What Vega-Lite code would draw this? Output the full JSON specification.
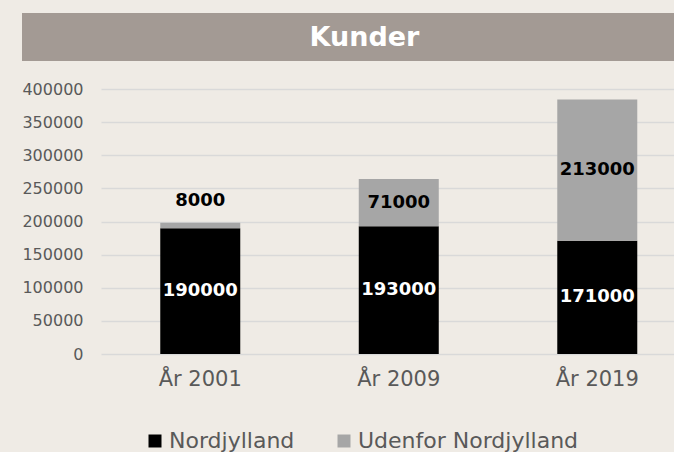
{
  "$schema": "https://vega.github.io/schema/vega-lite/v6.json",
  "background": "#EFEBE5",
  "padding": {"left": 21, "top": 13, "right": 0, "bottom": 0},
  "spacing": 20,
  "config": {"view": {"stroke": null}, "font": "DejaVu Sans"},
  "vconcat": [
    {
      "width": 653,
      "height": 48,
      "view": {"fill": "#A39A94", "stroke": null},
      "data": {"values": [{"title": "Kunder"}]},
      "mark": {"type": "text", "font": "DejaVu Sans", "fontWeight": "bold", "fontSize": 27, "color": "#FFFFFF", "baseline": "middle", "align": "center", "dx": 16, "dy": 1},
      "encoding": {"text": {"field": "title", "type": "nominal"}}
    },
    {
      "width": 653,
      "height": 265,
      "data": {
        "values": [
          {"year": "År 2001", "cat": "Nordjylland", "value": 190000},
          {"year": "År 2001", "cat": "Udenfor Nordjylland", "value": 8000},
          {"year": "År 2009", "cat": "Nordjylland", "value": 193000},
          {"year": "År 2009", "cat": "Udenfor Nordjylland", "value": 71000},
          {"year": "År 2019", "cat": "Nordjylland", "value": 171000},
          {"year": "År 2019", "cat": "Udenfor Nordjylland", "value": 213000}
        ]
      },
      "transform": [
        {"stack": "value", "groupby": ["year"], "sort": [{"field": "cat", "order": "ascending"}], "as": ["v0", "v1"]},
        {"calculate": "(datum.v0 + datum.v1) / 2", "as": "mid"}
      ],
      "encoding": {
        "x": {
          "field": "year",
          "type": "nominal",
          "scale": {"range": [79, 653], "paddingInner": 0.597, "paddingOuter": 0.2443, "align": 0.611},
          "axis": {"title": null, "labelAngle": 0, "ticks": false, "domain": false, "labelFont": "DejaVu Sans", "labelFontSize": 21, "labelColor": "#595959", "labelPadding": 14}
        }
      },
      "layer": [
        {
          "mark": {"type": "bar"},
          "encoding": {
            "y": {
              "field": "v0",
              "type": "quantitative",
              "scale": {"domain": [0, 400000]},
              "axis": {"title": null, "values": [0, 50000, 100000, 150000, 200000, 250000, 300000, 350000, 400000], "format": "d", "ticks": false, "domain": false, "labelPadding": -61, "labelAlign": "right", "labelFont": "DejaVu Sans", "labelFontSize": 16, "labelColor": "#595959", "gridColor": "#D9D9D9", "gridWidth": 1.5, "labelOverlap": false}
            },
            "y2": {"field": "v1"},
            "color": {
              "field": "cat",
              "type": "nominal",
              "scale": {"domain": ["Nordjylland", "Udenfor Nordjylland"], "range": ["#000000", "#A6A6A6"]},
              "legend": {"title": null, "orient": "none", "direction": "horizontal", "legendX": 122, "legendY": 417, "symbolType": "square", "symbolSize": 169, "symbolStrokeWidth": 0, "labelFont": "DejaVu Sans", "labelFontSize": 22, "labelColor": "#595959", "labelLimit": 400, "columnPadding": 38, "labelOffset": 3}
            }
          }
        },
        {
          "transform": [{"filter": "datum.cat === 'Nordjylland'"}],
          "mark": {"type": "text", "fontWeight": "bold", "fontSize": 18, "color": "#FFFFFF", "baseline": "middle"},
          "encoding": {
            "y": {"field": "mid", "type": "quantitative", "axis": {"title": null, "values": [0, 50000, 100000, 150000, 200000, 250000, 300000, 350000, 400000], "format": "d", "ticks": false, "domain": false, "labelPadding": -61, "labelAlign": "right", "labelFont": "DejaVu Sans", "labelFontSize": 16, "labelColor": "#595959", "gridColor": "#D9D9D9", "gridWidth": 1.5, "labelOverlap": false}},
            "text": {"field": "value", "type": "quantitative", "format": "d"}
          }
        },
        {
          "transform": [{"filter": "datum.cat === 'Udenfor Nordjylland' && datum.value >= 20000"}],
          "mark": {"type": "text", "fontWeight": "bold", "fontSize": 18, "color": "#000000", "baseline": "middle"},
          "encoding": {
            "y": {"field": "mid", "type": "quantitative", "axis": {"title": null, "values": [0, 50000, 100000, 150000, 200000, 250000, 300000, 350000, 400000], "format": "d", "ticks": false, "domain": false, "labelPadding": -61, "labelAlign": "right", "labelFont": "DejaVu Sans", "labelFontSize": 16, "labelColor": "#595959", "gridColor": "#D9D9D9", "gridWidth": 1.5, "labelOverlap": false}},
            "text": {"field": "value", "type": "quantitative", "format": "d"}
          }
        },
        {
          "transform": [{"filter": "datum.cat === 'Udenfor Nordjylland' && datum.value < 20000"}],
          "mark": {"type": "text", "fontWeight": "bold", "fontSize": 18, "color": "#000000", "baseline": "middle", "dy": -22},
          "encoding": {
            "y": {"field": "v1", "type": "quantitative", "axis": {"title": null, "values": [0, 50000, 100000, 150000, 200000, 250000, 300000, 350000, 400000], "format": "d", "ticks": false, "domain": false, "labelPadding": -61, "labelAlign": "right", "labelFont": "DejaVu Sans", "labelFontSize": 16, "labelColor": "#595959", "gridColor": "#D9D9D9", "gridWidth": 1.5, "labelOverlap": false}},
            "text": {"field": "value", "type": "quantitative", "format": "d"}
          }
        }
      ]
    }
  ]
}
